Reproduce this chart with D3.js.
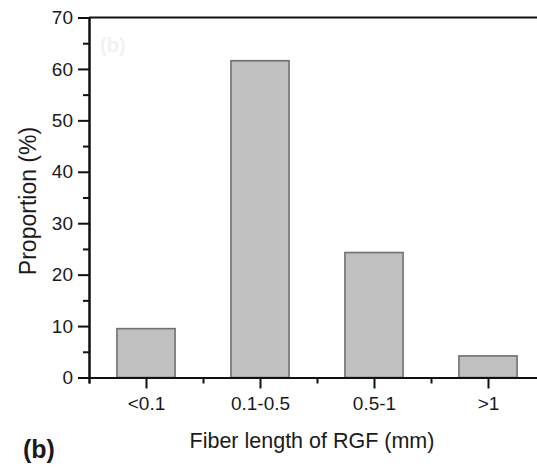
<!DOCTYPE html>
<html>
<head>
<meta charset="utf-8">
<script src="https://cdn.jsdelivr.net/npm/d3@7"></script>
<style>
  body { margin: 0; background: #fff; }
  text { font-family: "Liberation Sans", Arial, sans-serif; fill: #1a1a1a; }
</style>
</head>
<body>
<script>
  // fiber length classes and proportion (%)
  const categories = ['<0.1', '0.1-0.5', '0.5-1', '>1'];
  const proportions = [9.5, 61.6, 24.3, 4.2];
  const yMajorTicks = [0, 10, 20, 30, 40, 50, 60, 70];
  const yMinorTicks = [5, 15, 25, 35, 45, 55, 65];

  const width = 537;
  const height = 470;
  const margin = { top: 17.5, right: -8, bottom: 92.5, left: 89 };

  const svg = d3.select('body')
    .append('svg')
    .attr('width', width)
    .attr('height', height);

  // categories sit at 1..n, axis runs half a step past each end
  const x = d3.scaleLinear()
    .domain([0.5, categories.length + 0.5])
    .range([margin.left, width - margin.right]);

  const y = d3.scaleLinear()
    .domain([0, 70])
    .range([height - margin.bottom, margin.top]);

  const barHalf = 0.255;

  svg.append('g')
    .selectAll('rect')
    .data(proportions)
    .join('rect')
    .attr('x', (d, i) => x(i + 1 - barHalf))
    .attr('y', (d) => y(d))
    .attr('width', x(1 + barHalf) - x(1 - barHalf))
    .attr('height', (d) => y(0) - y(d))
    .attr('fill', '#c0c0c0')
    .attr('stroke', '#707070')
    .attr('stroke-width', 1.6);

  // top frame line
  svg.append('line')
    .attr('x1', margin.left).attr('x2', width)
    .attr('y1', y(70)).attr('y2', y(70))
    .attr('stroke', '#111').attr('stroke-width', 2);

  const styleAxis = (g) => {
    g.select('.domain').attr('stroke', '#111').attr('stroke-width', 2);
    g.selectAll('.tick line').attr('stroke', '#111').attr('stroke-width', 2);
    g.selectAll('.tick text').style('font-size', '19px')
      .style('font-family', '"Liberation Sans", Arial, sans-serif')
      .attr('fill', '#1a1a1a');
  };

  // y axis minor then major
  svg.append('g')
    .attr('transform', `translate(${margin.left},0)`)
    .call(d3.axisLeft(y).tickValues(yMinorTicks).tickSize(6).tickFormat(''))
    .call(styleAxis);

  svg.append('g')
    .attr('transform', `translate(${margin.left},0)`)
    .call(d3.axisLeft(y).tickValues(yMajorTicks).tickSize(11).tickPadding(5).tickSizeOuter(0))
    .call(styleAxis);

  // x axis minor then major
  svg.append('g')
    .attr('transform', `translate(0,${y(0)})`)
    .call(d3.axisBottom(x)
      .tickValues(d3.range(0, categories.length + 1).map((i) => i + 0.5))
      .tickSize(6).tickFormat(''))
    .call(styleAxis);

  svg.append('g')
    .attr('transform', `translate(0,${y(0)})`)
    .call(d3.axisBottom(x)
      .tickValues(categories.map((c, i) => i + 1))
      .tickFormat((d) => categories[d - 1])
      .tickSize(11).tickPadding(8).tickSizeOuter(0))
    .call(styleAxis);

  // axis titles
  svg.append('text')
    .attr('transform', `translate(36,201) rotate(-90)`)
    .attr('text-anchor', 'middle')
    .style('font-size', '23px')
    .text('Proportion (%)');

  svg.append('text')
    .attr('x', 312)
    .attr('y', 448)
    .attr('text-anchor', 'middle')
    .style('font-size', '21.5px')
    .text('Fiber length of RGF (mm)');

  // panel label, plus faint ghost copy inside the plot
  svg.append('text')
    .attr('x', 23)
    .attr('y', 458)
    .style('font-size', '25px')
    .style('font-weight', 'bold')
    .text('(b)');

  svg.append('text')
    .attr('x', 100)
    .attr('y', 52)
    .style('font-size', '20px')
    .style('font-weight', 'bold')
    .style('fill', '#f2f2f2')
    .text('(b)');
</script>
</body>
</html>
